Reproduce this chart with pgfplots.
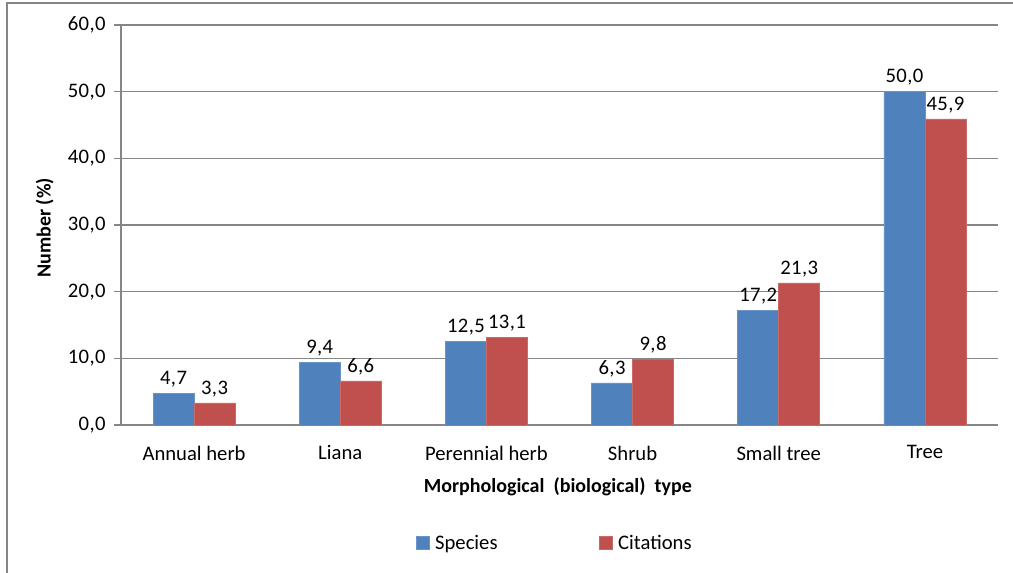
\documentclass[border=0pt]{standalone}
\usepackage{pgfplots}
\pgfplotsset{compat=1.18}
\usepackage{fontspec}
\setmainfont{Carlito}
\newfontfamily\numfont[LetterSpace=2]{Carlito}
\definecolor{cblue}{HTML}{4F81BD}
\definecolor{cred}{HTML}{C0504D}
\definecolor{cgrid}{HTML}{868686}
\begin{document}
\begin{tikzpicture}
\useasboundingbox (0,0) rectangle (1013*0.75pt,573*0.75pt);
\draw[cgrid,line width=1.2pt] (7*0.75pt,0) -- (7*0.75pt,570*0.75pt) -- (1013*0.75pt,570*0.75pt);
\begin{axis}[
  at={(121*0.75pt,148*0.75pt)}, anchor=south west,
  scale only axis, width=877*0.75pt, height=400*0.75pt,
  xmin=-0.5, xmax=5.5, ymin=0, ymax=60,
  ytick={0,10,...,60},
  xtick={0,...,5},
  xticklabels={Annual herb, Liana, Perennial herb, Shrub, Small tree, Tree},
  extra x ticks={-0.5,0.5,...,5.5},
  extra x tick labels={},
  extra x tick style={major tick length=5pt, tick align=outside, tick style={cgrid, line width=1pt}},
  xtick style={draw=none},
  axis x line*=bottom, axis y line*=left,
  axis line style={cgrid, line width=1.2pt},
  ytick style={cgrid, line width=1pt},
  tick align=outside, major tick length=5pt,
  ymajorgrids, grid style={cgrid, line width=1pt},
  yticklabel style={/pgf/number format/fixed, /pgf/number format/fixed zerofill, /pgf/number format/precision=1, /pgf/number format/use comma, xshift=-3pt, font=\fontsize{15.5}{17}\numfont},
  /pgf/number format/assume math mode=true,
  ticklabel style={text=black},
  xticklabel style={yshift=-7pt, font=\fontsize{15.5}{17}\selectfont},
  ybar=0pt, bar width=41*0.75pt,
  nodes near coords,
  nodes near coords style={font=\fontsize{15.5}{17}\numfont, text=black, /pgf/number format/fixed, /pgf/number format/fixed zerofill, /pgf/number format/precision=1, /pgf/number format/use comma, yshift=1pt},
  xlabel={Morphological~~(biological)~~type},
  ylabel={Number (\%)},
  every axis x label/.style={at={(axis description cs:0.498,-0.155)}, anchor=center, font=\fontsize{15}{17}\selectfont\bfseries},
  every axis y label/.style={at={(axis description cs:-0.087,0.4925)}, anchor=center, rotate=90, font=\fontsize{15}{17}\selectfont\bfseries},
  legend style={at={(0.495,-0.295)}, anchor=center, draw=none, legend columns=2,
    font=\fontsize{15.5}{17}\selectfont,
    /tikz/every odd column/.append style={column sep=2pt},
    /tikz/every even column/.append style={column sep=74pt}},
  legend image code/.code={\fill[#1] (0pt,-5pt) rectangle (10pt,5pt);},
]
\addplot[fill=cblue, draw=cblue!85!white] coordinates {(0,4.7) (1,9.4) (2,12.5) (3,6.3) (4,17.2) (5,50.0)};
\addplot[fill=cred, draw=cred!85!white] coordinates {(0,3.3) (1,6.6) (2,13.1) (3,9.8) (4,21.3) (5,45.9)};
\legend{Species, Citations}
\end{axis}
\end{tikzpicture}
\end{document}
